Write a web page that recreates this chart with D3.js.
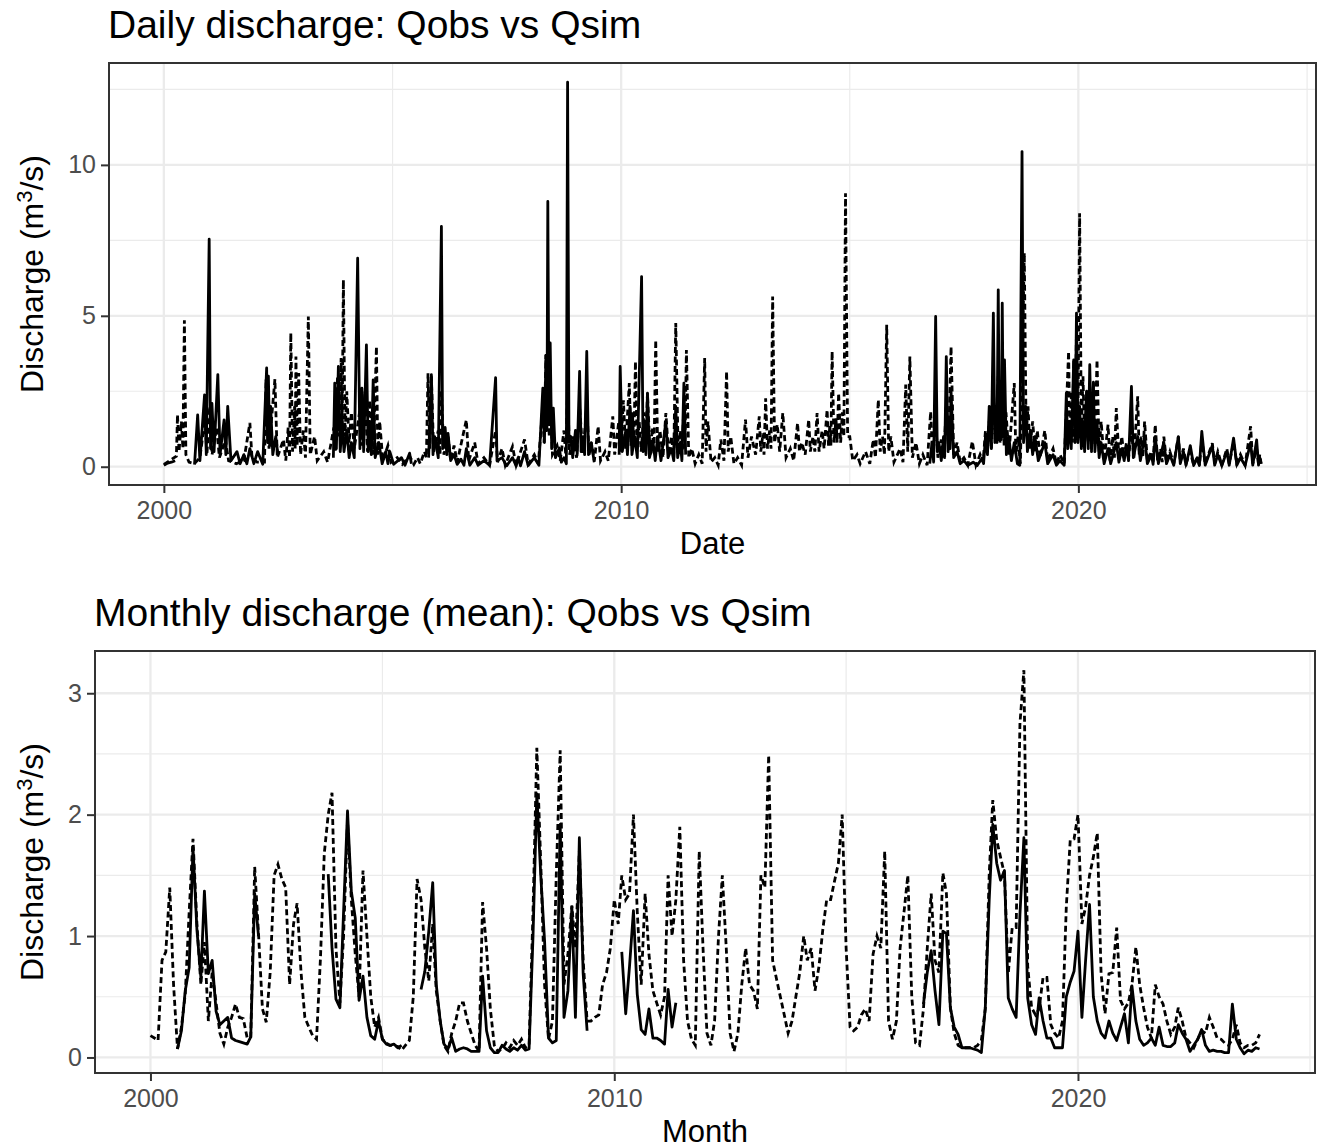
<!DOCTYPE html>
<html>
<head>
<meta charset="utf-8">
<script src="https://cdn.jsdelivr.net/npm/d3@7"></script>
<style>
body { margin: 0; background: #fff; }
svg { display: block; font-family: "Liberation Sans", Arial, Helvetica, sans-serif; }
</style>
</head>
<body>
<svg id="chart"></svg>
<script>
// ---- data ----
// daily discharge, key points [date, value]; null = no observation
const qobsDaily = [
  ["2000-01-01",0.05],["2000-02-01",0.12],["2000-03-01",0.15],["2000-03-31",0.20],["2000-04-01",null],
  ["2000-09-02",0.07],["2000-09-27",1.72],["2000-10-15",0.20],["2000-11-21",2.38],["2000-12-05",0.40],["2000-12-28",7.54],
  ["2001-01-08",0.60],["2001-01-19",2.10],["2001-02-05",0.50],["2001-03-07",3.05],["2001-03-25",0.40],["2001-04-26",1.55],
  ["2001-05-10",0.40],["2001-05-25",2.00],["2001-06-20",0.20],["2001-08-07",0.50],["2001-09-01",0.10],["2001-10-01",0.40],
  ["2001-10-25",0.10],["2001-11-18",0.60],["2001-12-20",0.10],["2002-01-19",0.50],["2002-03-01",0.08],["2002-04-01",3.27],
  ["2002-04-08",0.80],["2002-04-15",3.00],["2002-04-25",0.70],["2002-05-03",2.00],["2002-05-20",0.40],["2002-06-13",1.00],
  ["2002-06-30",0.40],["2002-07-01",null],
  ["2003-09-16",0.30],["2003-09-27",2.77],["2003-10-10",0.60],["2003-10-26",3.32],["2003-11-10",0.50],["2003-11-25",1.50],
  ["2003-12-10",0.50],["2004-01-01",1.20],["2004-01-20",0.30],["2004-02-07",0.80],["2004-03-01",0.30],["2004-03-28",6.91],
  ["2004-04-15",0.60],["2004-05-01",2.60],["2004-05-15",0.50],["2004-06-06",4.04],["2004-06-20",0.50],["2004-07-01",1.50],
  ["2004-07-15",0.40],["2004-07-30",2.88],["2004-08-15",0.30],["2004-09-13",0.80],["2004-10-10",0.10],["2004-11-07",0.50],
  ["2004-11-25",0.10],["2004-12-10",0.50],["2005-01-10",0.08],["2005-03-13",0.30],["2005-04-10",0.05],["2005-05-17",0.45],
  ["2005-05-31",0.10],["2005-06-01",null],
  ["2005-10-16",0.30],["2005-11-07",3.05],["2005-11-20",0.40],["2005-12-03",1.00],["2006-01-01",0.30],["2006-01-26",7.96],
  ["2006-02-05",0.60],["2006-02-25",1.30],["2006-03-10",0.40],["2006-03-20",1.10],["2006-04-10",0.20],["2006-05-07",0.40],
  ["2006-06-01",0.08],["2006-07-01",0.25],["2006-07-25",0.05],["2006-08-13",0.60],["2006-09-10",0.05],["2006-10-19",0.30],
  ["2006-11-15",0.05],["2007-01-01",0.20],["2007-02-15",0.05],["2007-04-04",2.95],["2007-04-15",0.20],["2007-05-25",0.30],
  ["2007-07-01",0.03],["2007-08-17",0.30],["2007-09-15",0.03],["2007-10-01",0.30],["2007-10-20",0.03],["2007-11-21",0.50],
  ["2007-12-20",0.04],["2008-02-07",0.30],["2008-03-15",0.05],["2008-04-15",2.60],["2008-04-28",0.80],["2008-05-10",3.70],
  ["2008-05-18",1.20],["2008-05-25",8.79],["2008-06-03",1.50],["2008-06-13",4.10],["2008-06-25",0.60],["2008-07-08",1.94],
  ["2008-07-25",0.30],["2008-08-25",0.62],["2008-09-10",0.15],["2008-10-01",0.30],["2008-10-20",0.10],["2008-10-30",12.74],
  ["2008-11-10",0.80],["2008-11-25",1.00],["2008-12-10",0.30],["2009-01-01",1.20],["2009-01-15",0.40],["2009-02-03",3.16],
  ["2009-02-15",0.50],["2009-03-03",1.00],["2009-03-15",0.40],["2009-04-01",3.82],["2009-04-15",0.40],["2009-05-07",0.80],
  ["2009-05-31",0.15],["2009-06-01",null],
  ["2009-12-16",0.40],["2009-12-24",3.32],["2010-01-10",0.50],["2010-02-07",1.20],["2010-02-20",0.40],["2010-03-13",2.00],
  ["2010-03-28",0.40],["2010-04-19",1.00],["2010-05-10",0.30],["2010-06-13",6.30],["2010-06-25",0.50],["2010-07-08",1.50],
  ["2010-07-18",0.40],["2010-07-30",2.44],["2010-08-15",0.30],["2010-09-13",0.80],["2010-09-30",0.20],["2010-10-19",1.00],
  ["2010-11-15",0.20],["2010-12-24",1.50],["2011-01-10",0.30],["2011-02-07",0.60],["2011-02-25",0.20],["2011-03-13",2.00],
  ["2011-03-28",0.30],["2011-04-19",0.80],["2011-05-01",0.20],["2011-05-17",2.77],["2011-05-31",0.40],["2011-06-01",null],
  ["2016-10-01",0.10],["2016-10-19",0.80],["2016-11-01",0.15],["2016-11-17",4.98],["2016-11-30",0.50],["2016-12-13",0.80],
  ["2017-01-01",0.20],["2017-01-19",1.00],["2017-01-28",0.30],["2017-02-10",3.65],["2017-02-25",0.50],["2017-03-07",1.50],
  ["2017-03-12",0.60],["2017-03-20",2.50],["2017-04-10",0.30],["2017-05-07",0.50],["2017-06-01",0.10],["2017-07-01",0.20],
  ["2017-08-01",0.05],["2017-09-13",0.15],["2017-10-15",0.04],["2017-11-25",0.30],["2017-12-05",0.10],["2017-12-20",1.00],
  ["2018-01-05",0.40],["2018-01-19",2.00],["2018-02-05",0.60],["2018-02-21",5.09],["2018-03-05",0.80],["2018-03-13",2.00],
  ["2018-03-22",0.80],["2018-04-01",5.86],["2018-04-10",0.90],["2018-04-19",2.50],["2018-04-26",0.90],["2018-05-03",5.42],
  ["2018-05-12",1.00],["2018-05-21",3.54],["2018-06-05",0.40],["2018-06-25",1.00],["2018-07-15",0.20],["2018-08-07",0.80],
  ["2018-09-01",0.10],["2018-09-20",0.05],["2018-10-08",10.44],["2018-10-20",0.80],["2018-11-07",2.00],["2018-11-20",0.50],
  ["2018-12-13",1.20],["2019-01-01",0.40],["2019-01-19",1.00],["2019-02-15",0.20],["2019-04-08",0.80],["2019-05-01",0.10],
  ["2019-06-13",0.40],["2019-07-10",0.05],["2019-08-07",0.20],["2019-09-10",0.05],["2019-09-27",2.44],["2019-10-08",0.60],
  ["2019-10-19",1.50],["2019-11-05",0.60],["2019-11-25",3.54],["2019-12-05",0.80],["2019-12-17",5.09],["2019-12-28",0.80],
  ["2020-01-11",2.00],["2020-01-25",0.60],["2020-02-07",1.50],["2020-02-20",0.50],["2020-03-07",2.50],["2020-03-20",0.60],
  ["2020-04-01",3.38],["2020-04-15",0.50],["2020-04-30",2.80],["2020-05-12",0.50],["2020-05-29",1.50],["2020-06-15",0.30],
  ["2020-07-01",0.80],["2020-07-25",0.10],["2020-08-25",0.60],["2020-09-15",0.10],["2020-10-30",0.80],["2020-11-20",0.15],
  ["2020-12-13",0.60],["2021-01-01",0.20],["2021-01-19",0.70],["2021-02-05",0.20],["2021-02-28",2.66],["2021-03-15",0.30],
  ["2021-04-19",1.00],["2021-05-10",0.20],["2021-06-13",1.00],["2021-07-05",0.10],["2021-08-07",0.40],["2021-08-20",0.08],
  ["2021-09-06",1.00],["2021-10-01",0.10],["2021-11-14",0.80],["2021-12-05",0.10],["2022-01-01",0.40],["2022-02-01",0.05],
  ["2022-03-10",1.00],["2022-03-25",0.10],["2022-04-19",0.50],["2022-05-10",0.05],["2022-06-13",0.70],["2022-07-10",0.04],
  ["2022-08-07",0.30],["2022-08-25",0.04],["2022-09-13",1.17],["2022-10-10",0.05],["2022-12-06",0.70],["2022-12-25",0.05],
  ["2023-01-19",0.40],["2023-02-20",0.04],["2023-04-01",0.50],["2023-04-20",0.05],["2023-05-25",0.95],["2023-06-20",0.05],
  ["2023-07-19",0.30],["2023-08-25",0.04],["2023-10-08",0.80],["2023-10-25",0.05],["2023-11-25",0.89],["2023-12-10",0.05],
  ["2023-12-20",0.30],["2023-12-31",0.10]
]

const qsimDaily = [
  ["2000-01-01",0.08],["2000-02-15",0.20],["2000-04-10",0.35],["2000-04-19",1.72],["2000-05-01",0.50],["2000-05-20",1.50],
  ["2000-06-01",0.60],["2000-06-13",4.85],["2000-06-25",0.40],["2000-07-20",0.15],["2000-09-01",0.10],["2000-10-15",0.30],
  ["2000-11-25",1.60],["2000-12-10",0.40],["2001-01-01",2.00],["2001-01-20",0.40],["2001-02-25",1.30],["2001-03-20",0.30],
  ["2001-05-07",0.90],["2001-06-01",0.20],["2001-08-01",0.10],["2001-10-01",0.20],["2001-11-18",1.45],["2001-12-05",0.30],
  ["2002-01-15",0.15],["2002-03-15",0.15],["2002-03-27",2.90],["2002-04-20",0.60],["2002-06-06",2.90],["2002-06-25",0.30],
  ["2002-08-13",0.90],["2002-09-01",0.20],["2002-09-20",1.30],["2002-10-01",0.30],["2002-10-11",4.43],["2002-10-25",0.50],
  ["2002-11-10",2.00],["2002-11-15",0.60],["2002-11-21",3.65],["2002-12-01",0.70],["2002-12-13",3.10],["2002-12-28",0.40],
  ["2003-01-19",1.20],["2003-02-05",0.30],["2003-02-28",4.98],["2003-03-15",0.40],["2003-04-19",1.00],["2003-05-10",0.20],
  ["2003-07-01",0.50],["2003-08-01",0.15],["2003-09-20",1.30],["2003-10-01",0.50],["2003-10-19",3.00],["2003-11-01",1.00],
  ["2003-11-17",3.60],["2003-11-25",1.20],["2003-12-05",6.19],["2003-12-18",1.00],["2004-01-01",2.50],["2004-01-20",0.80],
  ["2004-02-07",1.80],["2004-03-01",0.60],["2004-04-19",2.00],["2004-05-05",0.70],["2004-05-25",2.50],["2004-06-15",0.50],
  ["2004-07-01",2.20],["2004-08-01",0.40],["2004-08-25",3.98],["2004-09-05",0.40],["2004-09-20",1.50],["2004-10-15",0.20],
  ["2004-11-25",0.70],["2004-12-20",0.15],["2005-02-07",0.30],["2005-03-20",0.08],["2005-05-17",0.35],["2005-06-20",0.08],
  ["2005-07-19",0.30],["2005-08-10",0.10],["2005-09-13",0.50],["2005-09-28",0.30],["2005-10-11",3.10],["2005-10-25",0.60],
  ["2005-11-07",3.00],["2005-11-25",0.50],["2006-01-01",1.20],["2006-01-15",0.40],["2006-01-26",2.50],["2006-02-15",0.40],
  ["2006-03-20",1.00],["2006-04-10",0.20],["2006-05-07",0.70],["2006-06-01",0.15],["2006-08-13",1.55],["2006-09-01",0.20],
  ["2006-10-19",0.80],["2006-11-15",0.10],["2007-01-01",0.30],["2007-02-15",0.05],["2007-04-04",1.20],["2007-04-20",0.15],
  ["2007-05-25",0.60],["2007-06-20",0.05],["2007-08-17",0.67],["2007-09-15",0.05],["2007-11-21",0.90],["2007-12-20",0.08],
  ["2008-02-07",0.40],["2008-03-10",0.10],["2008-04-15",2.00],["2008-04-25",0.80],["2008-05-10",3.70],["2008-05-18",1.50],
  ["2008-05-25",4.00],["2008-06-05",1.00],["2008-06-13",2.50],["2008-07-01",0.40],["2008-08-07",0.70],["2008-09-01",0.20],
  ["2008-10-01",1.20],["2008-10-15",0.40],["2008-10-30",2.50],["2008-11-15",0.40],["2008-12-13",1.00],["2009-01-10",0.30],
  ["2009-02-03",2.00],["2009-03-01",0.40],["2009-04-01",2.00],["2009-04-20",0.40],["2009-05-07",0.80],["2009-06-01",0.20],
  ["2009-07-01",1.34],["2009-07-20",0.20],["2009-08-25",0.50],["2009-09-20",0.20],["2009-10-26",1.67],["2009-11-10",0.40],
  ["2009-12-13",1.50],["2009-12-28",0.50],["2010-01-19",2.20],["2010-02-05",0.60],["2010-03-07",2.77],["2010-03-20",0.70],
  ["2010-04-01",1.80],["2010-04-12",0.70],["2010-04-25",3.49],["2010-05-10",0.60],["2010-05-25",1.50],["2010-06-10",0.50],
  ["2010-07-01",1.80],["2010-07-15",0.50],["2010-07-30",2.44],["2010-08-20",0.40],["2010-09-07",1.30],["2010-09-20",0.40],
  ["2010-10-04",4.20],["2010-10-20",0.50],["2010-11-07",1.20],["2010-12-01",0.30],["2010-12-24",1.78],["2011-01-15",0.40],
  ["2011-02-07",1.00],["2011-02-25",0.30],["2011-03-13",4.76],["2011-04-01",0.50],["2011-04-19",1.20],["2011-05-01",0.40],
  ["2011-05-17",2.00],["2011-05-25",0.60],["2011-06-06",3.87],["2011-06-25",0.30],["2011-07-19",0.60],["2011-08-15",0.10],
  ["2011-09-13",0.40],["2011-10-10",0.10],["2011-10-30",3.60],["2011-11-10",0.50],["2011-11-25",1.50],["2011-12-20",0.15],
  ["2012-01-19",0.30],["2012-02-15",0.05],["2012-03-07",0.90],["2012-04-01",0.20],["2012-04-22",3.16],["2012-05-05",0.50],
  ["2012-05-25",1.00],["2012-06-20",0.10],["2012-07-19",0.30],["2012-08-20",0.05],["2012-09-20",1.56],["2012-10-10",0.30],
  ["2012-11-07",1.00],["2012-12-10",0.40],["2013-01-08",1.67],["2013-01-20",0.50],["2013-02-07",1.10],["2013-02-15",0.40],
  ["2013-02-28",2.27],["2013-03-15",0.60],["2013-04-01",1.20],["2013-04-12",0.60],["2013-04-25",5.64],["2013-05-10",0.80],
  ["2013-06-01",1.40],["2013-06-20",0.50],["2013-07-15",1.78],["2013-08-10",0.30],["2013-09-13",0.60],["2013-10-10",0.20],
  ["2013-11-10",1.45],["2013-11-25",0.50],["2013-12-13",0.80],["2014-01-10",0.40],["2014-02-07",1.56],["2014-02-20",0.50],
  ["2014-03-13",1.00],["2014-03-28",0.50],["2014-04-15",1.78],["2014-05-01",0.50],["2014-05-25",1.20],["2014-06-10",0.60],
  ["2014-07-04",1.89],["2014-07-15",0.70],["2014-07-26",1.40],["2014-08-03",0.70],["2014-08-13",3.82],["2014-08-28",0.80],
  ["2014-09-13",1.60],["2014-09-22",0.80],["2014-10-04",2.44],["2014-10-20",0.80],["2014-11-03",1.80],["2014-11-15",1.00],
  ["2014-11-28",9.06],["2014-12-15",1.00],["2015-01-01",1.00],["2015-01-25",0.20],["2015-02-28",0.40],["2015-03-25",0.10],
  ["2015-05-07",0.50],["2015-06-10",0.10],["2015-07-08",0.90],["2015-07-25",0.30],["2015-08-17",2.22],["2015-09-01",0.50],
  ["2015-09-20",1.00],["2015-10-05",0.40],["2015-10-23",4.70],["2015-11-08",0.50],["2015-11-25",1.00],["2015-12-20",0.15],
  ["2016-02-07",0.60],["2016-03-01",0.15],["2016-03-23",2.72],["2016-04-08",0.50],["2016-04-25",3.65],["2016-05-15",0.30],
  ["2016-06-13",0.80],["2016-07-10",0.10],["2016-08-07",0.40],["2016-09-10",0.05],["2016-10-08",1.83],["2016-10-25",0.30],
  ["2016-11-17",1.50],["2016-12-05",0.30],["2017-01-01",0.90],["2017-01-20",0.30],["2017-02-10",2.00],["2017-02-28",0.60],
  ["2017-03-20",3.98],["2017-04-10",0.40],["2017-05-07",0.80],["2017-06-01",0.15],["2017-07-01",0.30],["2017-08-01",0.05],
  ["2017-09-06",0.84],["2017-10-05",0.05],["2017-11-07",0.40],["2017-12-01",0.15],["2017-12-20",1.20],["2018-01-05",0.50],
  ["2018-01-19",1.50],["2018-02-05",0.60],["2018-02-21",2.20],["2018-03-10",0.80],["2018-04-01",3.00],["2018-04-15",0.80],
  ["2018-05-03",2.50],["2018-05-18",0.70],["2018-06-02",1.80],["2018-06-25",0.40],["2018-08-07",2.77],["2018-08-20",0.40],
  ["2018-09-06",1.00],["2018-09-25",0.10],["2018-10-26",7.08],["2018-11-10",1.00],["2018-11-25",2.00],["2018-12-10",0.60],
  ["2019-01-01",1.50],["2019-01-20",0.50],["2019-02-07",1.20],["2019-03-01",0.30],["2019-04-08",1.20],["2019-05-01",0.20],
  ["2019-06-13",0.60],["2019-07-10",0.10],["2019-08-07",0.40],["2019-09-10",0.10],["2019-10-15",3.82],["2019-10-25",0.80],
  ["2019-11-07",2.50],["2019-11-15",0.80],["2019-11-25",3.54],["2019-12-05",1.00],["2019-12-17",4.50],["2019-12-28",1.20],
  ["2020-01-11",8.40],["2020-01-25",1.20],["2020-02-07",3.00],["2020-02-20",0.80],["2020-03-07",2.50],["2020-03-20",0.80],
  ["2020-04-01",2.00],["2020-04-15",0.60],["2020-04-30",2.80],["2020-05-12",0.70],["2020-05-29",3.54],["2020-06-15",0.50],
  ["2020-07-01",1.50],["2020-07-25",0.20],["2020-08-25",1.39],["2020-09-10",0.20],["2020-10-01",1.00],["2020-10-15",0.30],
  ["2020-10-30",1.94],["2020-11-20",0.30],["2020-12-13",1.00],["2021-01-01",0.30],["2021-01-19",0.80],["2021-02-05",0.30],
  ["2021-02-28",1.20],["2021-03-20",0.30],["2021-04-19",2.33],["2021-05-01",0.40],["2021-05-17",1.00],["2021-05-30",0.30],
  ["2021-06-13",1.50],["2021-07-05",0.20],["2021-08-07",0.50],["2021-08-20",0.15],["2021-09-06",1.39],["2021-09-25",0.20],
  ["2021-10-19",0.60],["2021-11-01",0.15],["2021-11-14",1.00],["2021-12-05",0.15],["2022-01-01",0.50],["2022-02-01",0.10],
  ["2022-03-10",1.00],["2022-03-25",0.15],["2022-04-19",0.60],["2022-05-10",0.10],["2022-06-13",0.50],["2022-07-10",0.05],
  ["2022-08-07",0.30],["2022-08-25",0.05],["2022-09-13",0.90],["2022-10-10",0.10],["2022-12-06",0.78],["2022-12-25",0.10],
  ["2023-01-19",0.50],["2023-02-20",0.05],["2023-04-01",0.60],["2023-04-20",0.10],["2023-05-25",0.80],["2023-06-20",0.10],
  ["2023-07-19",0.40],["2023-08-25",0.05],["2023-10-08",1.34],["2023-10-25",0.10],["2023-11-25",0.60],["2023-12-10",0.10],
  ["2023-12-20",0.40],["2023-12-31",0.10]
]

// monthly means, Jan 2000 .. Dec 2023, one row per year
const qobsMonthly = [
  null,null,null,null,null,null,null,0.07,0.22,0.55,0.74,1.73,
  1.05,0.66,1.37,0.69,0.80,0.38,0.27,0.30,0.33,0.16,0.14,0.13,
  0.12,0.11,0.17,1.35,1.00,null,null,null,null,null,null,null,
  null,null,null,null,null,null,null,null,null,null,1.51,0.90,
  0.48,0.41,1.20,2.03,1.37,1.15,0.47,0.67,0.33,0.18,0.15,0.30,
  0.15,0.11,0.10,0.11,0.08,0.10,null,null,null,null,0.56,0.71,
  1.04,1.44,0.60,0.30,0.11,0.07,0.16,0.05,0.07,0.08,0.07,0.05,
  0.05,0.05,0.67,0.22,0.08,0.04,0.04,0.10,0.07,0.05,0.08,0.06,
  0.10,0.06,0.07,1.00,2.17,1.50,0.96,0.16,0.12,0.14,1.92,0.33,
  0.55,1.24,0.33,1.81,0.69,0.22,null,null,null,null,null,null,
  null,null,0.87,0.36,0.75,1.21,0.52,0.23,0.19,0.40,0.16,0.16,
  0.14,0.11,0.56,0.25,0.45,null,null,null,null,null,null,null,
  null,null,null,null,null,null,null,null,null,null,null,null,
  null,null,null,null,null,null,null,null,null,null,null,null,
  null,null,null,null,null,null,null,null,null,null,null,null,
  null,null,null,null,null,null,null,null,null,null,null,null,
  null,null,null,null,null,null,null,null,0.44,0.70,0.88,0.55,
  0.27,1.04,1.02,0.41,0.25,0.19,0.08,0.08,0.08,0.07,0.06,0.04,
  0.41,1.30,1.92,1.60,1.46,1.54,0.49,0.40,0.33,1.18,1.81,0.49,
  0.27,0.19,0.49,0.30,0.16,0.16,0.08,0.08,0.08,0.50,0.62,0.71,
  1.04,0.33,0.80,1.26,0.50,0.30,0.20,0.16,0.30,0.20,0.14,0.25,
  0.36,0.12,0.59,0.30,0.15,0.10,0.12,0.16,0.10,0.25,0.10,0.09,
  0.09,0.12,0.27,0.20,0.15,0.05,0.10,0.15,0.23,0.10,0.05,0.06,
  0.05,0.05,0.04,0.04,0.44,0.15,0.08,0.03,0.06,0.05,0.08,0.07
]

const qsimMonthly = [
  0.18,0.16,0.14,0.80,0.87,1.40,0.60,0.07,0.25,0.52,1.20,1.80,
  1.10,0.60,0.95,0.30,0.70,0.45,0.20,0.11,0.25,0.33,0.44,0.33,
  0.32,0.16,0.17,1.57,1.02,0.40,0.29,0.70,1.50,1.59,1.47,1.40,
  0.60,1.10,1.27,0.70,0.33,0.25,0.18,0.15,0.82,1.68,2.00,2.18,
  0.90,0.45,1.00,1.95,1.30,0.85,0.50,1.54,1.00,0.50,0.25,0.33,
  0.15,0.12,0.10,0.10,0.09,0.06,0.10,0.14,0.50,1.47,1.30,0.90,
  0.63,1.10,0.55,0.30,0.10,0.05,0.20,0.30,0.45,0.45,0.30,0.20,
  0.10,0.05,1.28,0.90,0.40,0.10,0.05,0.07,0.12,0.08,0.14,0.10,
  0.15,0.08,0.10,1.20,2.55,1.60,0.60,0.15,0.30,1.50,2.53,0.60,
  0.85,1.25,0.90,1.70,0.80,0.30,0.30,0.33,0.35,0.60,0.70,0.90,
  1.30,1.10,1.50,1.30,1.35,2.00,1.20,0.60,1.35,0.85,0.55,0.45,
  0.35,0.50,1.50,1.00,1.30,1.90,0.80,0.30,0.15,0.10,1.70,0.90,
  0.20,0.10,0.30,1.00,1.50,0.90,0.20,0.05,0.20,0.60,0.90,0.60,
  0.55,0.40,1.50,1.40,2.49,0.80,0.65,0.50,0.35,0.20,0.30,0.50,
  0.70,1.00,0.80,0.90,0.55,0.75,1.05,1.30,1.30,1.45,1.60,2.00,
  0.90,0.25,0.22,0.25,0.35,0.40,0.30,0.85,1.00,0.90,1.70,0.30,
  0.15,0.30,0.90,1.20,1.50,0.50,0.12,0.10,0.40,0.90,1.35,0.80,
  0.70,1.52,1.35,0.41,0.20,0.10,0.08,0.08,0.08,0.08,0.10,0.14,
  0.40,1.51,2.12,1.79,1.65,1.51,0.69,1.07,1.07,2.75,3.19,0.75,
  0.41,0.35,0.40,0.66,0.66,0.27,0.20,0.16,0.30,1.24,1.79,1.80,
  2.00,1.10,1.24,1.50,1.65,1.85,0.69,0.36,0.69,0.70,1.07,0.47,
  0.40,0.45,0.60,0.91,0.60,0.41,0.25,0.16,0.60,0.50,0.44,0.30,
  0.19,0.25,0.41,0.30,0.16,0.12,0.08,0.15,0.22,0.20,0.33,0.25,
  0.16,0.15,0.12,0.10,0.15,0.27,0.12,0.08,0.10,0.10,0.12,0.19
]

const yearTicks = ["2000", "2010", "2020"]
const yearMinor = ["2005", "2015", "2025"]

// ---- layout ----
const width = 1319
const height = 1148
const svg = d3.select("#chart").attr("width", width).attr("height", height)

const parseDay = d3.utcParse("%Y-%m-%d")
const parseYear = d3.utcParse("%Y")

const daily = {
  obs: qobsDaily.map(d => ({ date: parseDay(d[0]), value: d[1] })),
  sim: qsimDaily.map(d => ({ date: parseDay(d[0]), value: d[1] }))
}

const months = d3.utcMonth.range(Date.UTC(2000, 0, 1), Date.UTC(2024, 0, 1))
const monthly = {
  obs: months.map((m, i) => ({ date: m, value: qobsMonthly[i] })),
  sim: months.map((m, i) => ({ date: m, value: qsimMonthly[i] }))
}

drawPanel({
  left: 109, right: 1316, top: 63, bottom: 485,
  title: "Daily discharge: Qobs vs Qsim",
  xTitle: "Date",
  data: daily,
  yMajor: [0, 5, 10],
  yMinor: [2.5, 7.5, 12.5]
})

drawPanel({
  left: 95, right: 1315, top: 651, bottom: 1073,
  title: "Monthly discharge (mean): Qobs vs Qsim",
  xTitle: "Month",
  data: monthly,
  yMajor: [0, 1, 2, 3],
  yMinor: [0.5, 1.5, 2.5]
})

function expand(ext, f) {
  const span = ext[1] - ext[0]
  return [ext[0] - span * f, ext[1] + span * f]
}

function drawPanel(p) {
  const all = p.data.obs.concat(p.data.sim)
  const xExt = d3.extent(all, d => d.date).map(Number)
  const yExt = d3.extent(all.filter(d => d.value != null), d => d.value)

  const x = d3.scaleUtc().domain(expand(xExt, 0.05).map(v => new Date(v))).range([p.left, p.right])
  const y = d3.scaleLinear().domain(expand(yExt, 0.05)).range([p.bottom, p.top])

  const g = svg.append("g")

  // grid, minor first then major
  const xDom = x.domain()
  const minorX = yearMinor.map(parseYear).filter(d => d >= xDom[0] && d <= xDom[1])
  g.selectAll(".gx-minor").data(minorX).join("line")
    .attr("x1", d => x(d)).attr("x2", d => x(d))
    .attr("y1", p.top).attr("y2", p.bottom)
    .attr("stroke", "#ebebeb").attr("stroke-width", 1.2)
  g.selectAll(".gy-minor").data(p.yMinor).join("line")
    .attr("x1", p.left).attr("x2", p.right)
    .attr("y1", d => y(d)).attr("y2", d => y(d))
    .attr("stroke", "#ebebeb").attr("stroke-width", 1.2)
  g.selectAll(".gx-major").data(yearTicks.map(parseYear)).join("line")
    .attr("x1", d => x(d)).attr("x2", d => x(d))
    .attr("y1", p.top).attr("y2", p.bottom)
    .attr("stroke", "#ebebeb").attr("stroke-width", 2.3)
  g.selectAll(".gy-major").data(p.yMajor).join("line")
    .attr("x1", p.left).attr("x2", p.right)
    .attr("y1", d => y(d)).attr("y2", d => y(d))
    .attr("stroke", "#ebebeb").attr("stroke-width", 2.3)

  // lines
  const line = d3.line()
    .defined(d => d.value != null)
    .x(d => x(d.date))
    .y(d => y(d.value))

  g.append("path").datum(p.data.obs)
    .attr("d", line)
    .attr("fill", "none").attr("stroke", "#000").attr("stroke-width", 2.8)
    .attr("stroke-linejoin", "round")

  g.append("path").datum(p.data.sim)
    .attr("d", line)
    .attr("fill", "none").attr("stroke", "#000").attr("stroke-width", 2.8)
    .attr("stroke-dasharray", "6,3.5")

  // border
  g.append("rect")
    .attr("x", p.left).attr("y", p.top)
    .attr("width", p.right - p.left).attr("height", p.bottom - p.top)
    .attr("fill", "none").attr("stroke", "#333333").attr("stroke-width", 2)

  // axes
  const xAxis = g.append("g")
    .attr("transform", `translate(0,${p.bottom})`)
    .call(d3.axisBottom(x).tickValues(yearTicks.map(parseYear))
      .tickFormat(d3.utcFormat("%Y")).tickSize(8).tickPadding(8))
  const yAxis = g.append("g")
    .attr("transform", `translate(${p.left},0)`)
    .call(d3.axisLeft(y).tickValues(p.yMajor).tickFormat(d3.format("~g"))
      .tickSize(8).tickPadding(5))

  for (const ax of [xAxis, yAxis]) {
    ax.select(".domain").remove()
    ax.selectAll(".tick line").attr("stroke", "#333333").attr("stroke-width", 2)
    ax.selectAll(".tick text")
      .attr("fill", "#4d4d4d")
      .style("font-size", "25px")
      .style("font-family", "'Liberation Sans', Arial, sans-serif")
  }

  // titles
  g.append("text")
    .attr("x", p.left - 1).attr("y", p.top - 25)
    .style("font-size", "39px").attr("fill", "#000")
    .text(p.title)

  g.append("text")
    .attr("x", (p.left + p.right) / 2).attr("y", p.bottom + 69)
    .attr("text-anchor", "middle")
    .style("font-size", "31px").attr("fill", "#000")
    .text(p.xTitle)

  const yt = g.append("text")
    .attr("transform", `translate(43,${(p.top + p.bottom) / 2}) rotate(-90)`)
    .attr("text-anchor", "middle")
    .style("font-size", "32px").attr("fill", "#000")
  yt.append("tspan").text("Discharge (m")
  yt.append("tspan").attr("dy", -11).style("font-size", "22px").text("3")
  yt.append("tspan").attr("dy", 11).text("/s)")
}
</script>
</body>
</html>
